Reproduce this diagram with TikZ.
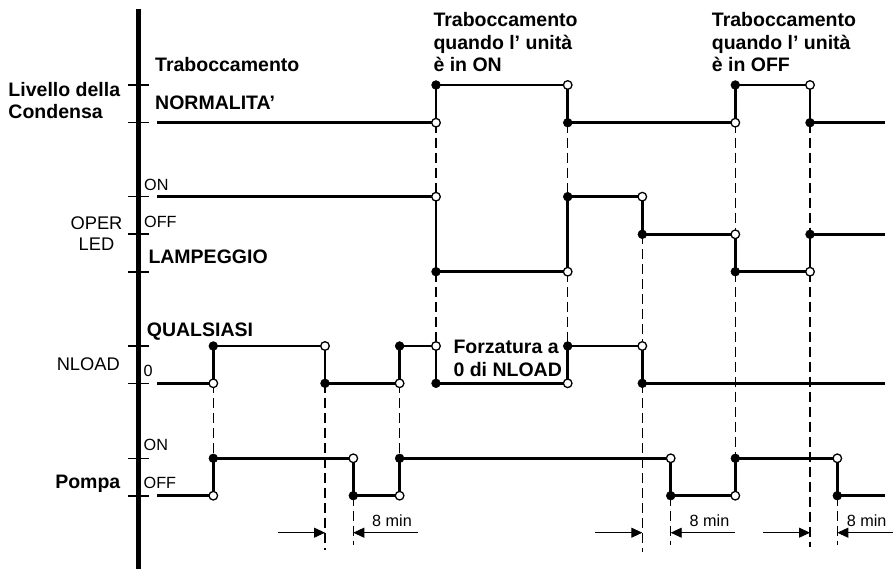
\documentclass[tikz,border=0pt]{standalone}
\usepackage{fontspec}
\setmainfont{Liberation Sans}
\usetikzlibrary{arrows.meta}
% x positions
\def\xS{157}\def\xE{885}
\def\xa{213.3}\def\xb{325}\def\xc{353.3}\def\xd{399.6}\def\xe{436}
\def\xf{567.7}\def\xg{642.3}\def\xh{670.7}\def\xi{735.3}\def\xj{810}\def\xk{837.3}
% y levels
\def\yLH{85}\def\yLL{122.7}
\def\yOON{196.7}\def\yOOFF{234.3}\def\yOLAMP{271.7}
\def\yNH{346}\def\yNL{383.3}
\def\yPON{458.3}\def\yPOFF{495.7}
\def\yDim{532.7}
\begin{document}
\begin{tikzpicture}[x=1pt,y=-1pt,
  sig/.style={line width=2.8pt},
  dsh/.style={line width=1.5pt, dash pattern=on 10pt off 5pt},
  tickmark/.style={line width=1.6pt},
  axisline/.style={line width=5pt},
  dimarrow/.style={line width=0.9pt, -{Triangle[length=11pt,width=10pt]}},
  fdot/.style={fill=black, draw=black, line width=0.5pt},
  odot/.style={fill=white, draw=black, line width=1.3pt},
  bl/.style={font=\fontsize{19.5}{22}\selectfont\bfseries, inner sep=0pt, anchor=base west},
  sm/.style={font=\fontsize{16.2}{18}\selectfont, inner sep=0pt, anchor=base west},
  lab/.style={font=\fontsize{18.3}{21}\selectfont, inner sep=0pt, anchor=base}]
\useasboundingbox (0,0) rectangle (893,569);

% ---------- axis and ticks ----------
\coordinate (axtop) at (138.7,9);
\coordinate (axbot) at (138.7,569);
\draw[axisline] (axtop) -- (axbot);
\foreach \yy in {\yLH,\yLL,\yOON,\yOOFF,\yOLAMP,\yNH,\yNL,\yPON,\yPOFF}
  \draw[tickmark] (128,\yy) -- (148.5,\yy);

% ---------- dashed guide lines ----------
\draw[dsh] (\xa,\yNL) -- (\xa,\yPON);
\draw[dsh] (\xb,\yNL) -- (\xb,550);
\draw[dsh] (\xc,\yPOFF) -- (\xc,545);
\draw[dsh] (\xd,\yNL) -- (\xd,\yPON);
\draw[dsh] (\xe,\yLL) -- (\xe,\yOON);
\draw[dsh] (\xe,\yOLAMP) -- (\xe,\yNH);
\draw[dsh] (\xf,\yLL) -- (\xf,\yOON);
\draw[dsh] (\xf,\yOLAMP) -- (\xf,\yNH);
\draw[dsh] (\xg,\yOOFF) -- (\xg,\yNH);
\draw[dsh] (\xg,\yNL) -- (\xg,552);
\draw[dsh] (\xh,\yPOFF) -- (\xh,545);
\draw[dsh] (\xi,\yLL) -- (\xi,\yOOFF);
\draw[dsh] (\xi,\yOLAMP) -- (\xi,\yPON);
\draw[dsh] (\xj,\yLL) -- (\xj,\yOOFF);
\draw[dsh] (\xj,\yOLAMP) -- (\xj,547);
\draw[dsh] (\xk,\yPOFF) -- (\xk,545);

% ---------- signals ----------
\draw[sig] (\xS,\yLL) -- (\xe,\yLL) -- (\xe,\yLH) -- (\xf,\yLH) -- (\xf,\yLL)
  -- (\xi,\yLL) -- (\xi,\yLH) -- (\xj,\yLH) -- (\xj,\yLL) -- (\xE,\yLL);
\draw[sig] (\xS,\yOON) -- (\xe,\yOON) -- (\xe,\yOLAMP) -- (\xf,\yOLAMP) -- (\xf,\yOON)
  -- (\xg,\yOON) -- (\xg,\yOOFF) -- (\xi,\yOOFF) -- (\xi,\yOLAMP) -- (\xj,\yOLAMP)
  -- (\xj,\yOOFF) -- (\xE,\yOOFF);
\draw[sig] (\xS,\yNL) -- (\xa,\yNL) -- (\xa,\yNH) -- (\xb,\yNH) -- (\xb,\yNL)
  -- (\xd,\yNL) -- (\xd,\yNH) -- (\xe,\yNH) -- (\xe,\yNL) -- (\xf,\yNL) -- (\xf,\yNH)
  -- (\xg,\yNH) -- (\xg,\yNL) -- (\xE,\yNL);
\draw[sig] (\xS,\yPOFF) -- (\xa,\yPOFF) -- (\xa,\yPON) -- (\xc,\yPON) -- (\xc,\yPOFF)
  -- (\xd,\yPOFF) -- (\xd,\yPON) -- (\xh,\yPON) -- (\xh,\yPOFF) -- (\xi,\yPOFF)
  -- (\xi,\yPON) -- (\xk,\yPON) -- (\xk,\yPOFF) -- (\xE,\yPOFF);

% ---------- transition dots ----------
\foreach \px/\py in {\xe/\yLL,\xf/\yLH,\xi/\yLL,\xj/\yLH,
    \xe/\yOON,\xf/\yOLAMP,\xg/\yOON,\xi/\yOOFF,\xj/\yOLAMP,
    \xa/\yNL,\xb/\yNH,\xd/\yNL,\xe/\yNH,\xf/\yNL,\xg/\yNH,
    \xa/\yPOFF,\xc/\yPON,\xd/\yPOFF,\xh/\yPON,\xi/\yPOFF,\xk/\yPON}
  \path[odot] (\px,\py) circle (4.3pt);
\foreach \px/\py in {\xe/\yLH,\xf/\yLL,\xi/\yLH,\xj/\yLL,
    \xe/\yOLAMP,\xf/\yOON,\xg/\yOOFF,\xi/\yOLAMP,\xj/\yOOFF,
    \xa/\yNH,\xb/\yNL,\xd/\yNH,\xe/\yNL,\xf/\yNH,\xg/\yNL,
    \xa/\yPON,\xc/\yPOFF,\xd/\yPON,\xh/\yPOFF,\xi/\yPON,\xk/\yPOFF}
  \path[fdot] (\px,\py) circle (4.4pt);

% ---------- 8 min dimension arrows ----------
\coordinate (d1a) at (278.3,\yDim); \coordinate (d1b) at (\xb,\yDim);
\coordinate (d1c) at (418.3,\yDim); \coordinate (d1d) at (\xc,\yDim);
\coordinate (d2a) at (595,\yDim);   \coordinate (d2b) at (\xg,\yDim);
\coordinate (d2c) at (735,\yDim);   \coordinate (d2d) at (\xh,\yDim);
\coordinate (d3a) at (763.3,\yDim); \coordinate (d3b) at (\xj,\yDim);
\coordinate (d3c) at (893,\yDim);   \coordinate (d3d) at (\xk,\yDim);
\draw[dimarrow] (d1a) -- (d1b);
\draw[dimarrow] (d1c) -- (d1d);
\draw[dimarrow] (d2a) -- (d2b);
\draw[dimarrow] (d2c) -- (d2d);
\draw[dimarrow] (d3a) -- (d3b);
\draw[dimarrow] (d3c) -- (d3d);
\node[sm, anchor=base] (m1) at (392,526.7) {8 min};
\node[sm, anchor=base] (m2) at (709.5,526.7) {8 min};
\node[sm, anchor=base] (m3) at (866.7,526.7) {8 min};

% ---------- texts ----------
\node[bl] (liv1) at (8.3,96.7) {Livello della};
\node[bl] (liv2) at (8.3,118.8) {Condensa};
\node[bl] (trab) at (155,71.7) {Traboccamento};
\node[bl] (norm) at (155,109.5) {NORMALITA’};
\node[bl] (t1a) at (433.3,27) {Traboccamento};
\node[bl] (t1b) at (433.3,49.5) {quando l’ unità};
\node[bl] (t1c) at (433.3,72) {è in ON};
\node[bl] (t2a) at (711.7,27) {Traboccamento};
\node[bl] (t2b) at (711.7,49.5) {quando l’ unità};
\node[bl] (t2c) at (711.7,72) {è in OFF};
\node[sm] (onA) at (144,190.7) {ON};
\node[sm] (offA) at (144,227.3) {OFF};
\node[lab] (oper) at (96.5,229.3) {OPER};
\node[lab] (led) at (96.5,251) {LED};
\node[bl] (lamp) at (148.3,263) {LAMPEGGIO};
\node[bl] (qual) at (146.7,336.7) {QUALSIASI};
\node[lab] (nload) at (88.3,370) {NLOAD};
\node[sm] (zero) at (143.5,376) {0};
\node[bl] (forz1) at (453.3,353.3) {Forzatura a};
\node[bl] (forz2) at (453.3,376) {0 di NLOAD};
\node[sm] (onB) at (143.5,450.5) {ON};
\node[sm] (offB) at (143.5,488) {OFF};
\node[bl, anchor=base east] (pompa) at (120.5,488.3) {Pompa};
\end{tikzpicture}
\end{document}
